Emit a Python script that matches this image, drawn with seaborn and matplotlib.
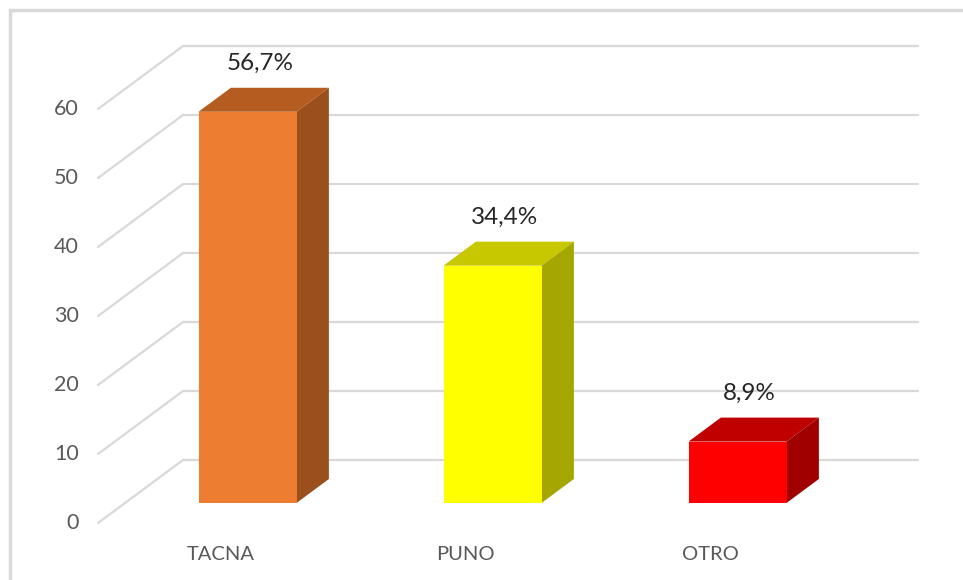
import matplotlib
matplotlib.use("Agg")
import matplotlib.pyplot as plt
from matplotlib.patches import Rectangle
import seaborn as sns

# chart data
categories = ["TACNA", "PUNO", "OTRO"]
values = [56.7, 34.4, 8.9]
value_labels = ["56,7%", "34,4%", "8,9%"]
y_ticks = [0, 10, 20, 30, 40, 50, 60]

# face colours (front / top / side)
front_colors = ["#ED7D31", "#FFFF00", "#FF0000"]
top_colors = ["#B55D20", "#C8C800", "#C00000"]
side_colors = ["#9A4F1D", "#A6A600", "#A00000"]

sns.set_theme(style="white")
plt.rcParams["font.family"] = ["Lato", "DejaVu Sans"]

W, H, DPI = 963, 580, 100
fig = plt.figure(figsize=(W / DPI, H / DPI), dpi=DPI)
# axes = plane of the bars' front faces
ax_l, ax_r, ax_top, ax_bot = 125, 860, 89, 503
ax = fig.add_axes([ax_l / W, 1 - ax_bot / H, (ax_r - ax_l) / W, (ax_bot - ax_top) / H])
ax.set_xlim(-0.5, len(categories) - 0.5)
ax.set_ylim(0, 60)
ax.axis("off")

# pixel -> data units
px_x = (ax_r - ax_l) / len(categories)
px_y = (ax_bot - ax_top) / 60

# depth (floor front z=0 to back wall z=1) in pixels
depth_dx, depth_dy = 85, 63
z_front, z_back = 20 / 63, 44 / 63


def proj(x, y, z):
    return (x + (z - z_front) * depth_dx / px_x,
            y + (z - z_front) * depth_dy / px_y)


grid_c = "#D9D9D9"
x0, x1 = -0.5, len(categories) - 0.5
for v in y_ticks:
    # back wall line
    a, b = proj(x0, v, 1), proj(x1, v, 1)
    ax.plot([a[0], b[0]], [a[1], b[1]], color=grid_c, lw=1.6, zorder=0, clip_on=False)
    # side wall line
    a, b = proj(x0, v, 0), proj(x0, v, 1)
    ax.plot([a[0], b[0]], [a[1], b[1]], color=grid_c, lw=1.6, zorder=0, clip_on=False)
    ax.text(a[0] - 19 / px_x, a[1], str(v), ha="right", va="center",
            fontsize=15.5, color="#595959")

sns.barplot(x=categories, y=values, hue=categories, palette=front_colors,
            width=0.4, saturation=1, legend=False, ax=ax, zorder=3, linewidth=0)

for i, p in enumerate(ax.patches):
    xl, w, h = p.get_x(), p.get_width(), p.get_height()
    xr = xl + w
    top = [proj(xl, h, z_front), proj(xr, h, z_front), proj(xr, h, z_back), proj(xl, h, z_back)]
    side = [proj(xr, 0, z_front), proj(xr, 0, z_back), proj(xr, h, z_back), proj(xr, h, z_front)]
    ax.fill(*zip(*top), color=top_colors[i], zorder=2, clip_on=False, lw=0)
    ax.fill(*zip(*side), color=side_colors[i], zorder=2, clip_on=False, lw=0)
    p.set_clip_on(False)
    lx, ly = proj(xl + w / 2, h, (z_front + z_back) / 2)
    ax.text(lx - 4 / px_x, ly + 36 / px_y, value_labels[i], ha="center", va="center",
            fontsize=17.5, color="#262626")
    cx, cy = proj(xl + w / 2, 0, 0)
    ax.text(cx, cy - 32 / px_y, categories[i], ha="center", va="center",
            fontsize=14.5, color="#595959")

# outer chart border
fig.patches.append(Rectangle((10 / W, -0.2), 2, 1.2 - 10 / H, transform=fig.transFigure,
                             fill=False, ec="#D9D9D9", lw=2.5))

fig.savefig("out.png", dpi=DPI)
